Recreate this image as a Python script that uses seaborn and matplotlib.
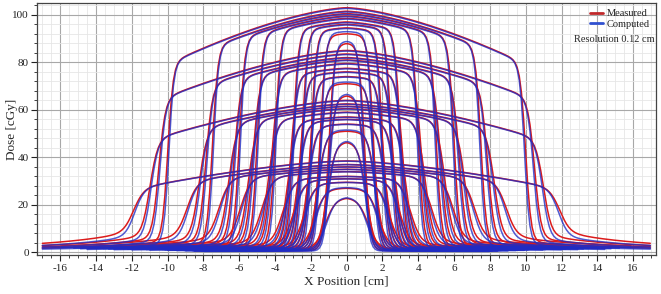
import numpy as np
import pandas as pd
import seaborn as sns
import matplotlib.pyplot as plt
from matplotlib.lines import Line2D
from matplotlib.ticker import MultipleLocator

# Field half-widths at the shallowest depth [cm]
half_widths = [1.0, 1.5, 2.0, 2.5, 3.0, 4.0, 5.0, 6.0, 7.5, 10.0]

# Central dose for each field, one list per depth [cGy]
peak_a = [88, 92, 94.5, 96, 97, 98.5, 99.5, 100.5, 101.5, 103]
peak_b = [66, 71, 74, 76, 77.5, 79.5, 81, 82, 83.5, 85]
peak_c = [46.5, 51, 54, 56, 57, 59, 60.5, 61.5, 62.5, 64]
peak_d = [23, 27, 29.5, 31, 32, 34, 35, 36, 37, 38.5]
peaks = [peak_a, peak_b, peak_c, peak_d]

# Per-depth beam properties
divergence = [1.0, 1.05, 1.10, 1.19]     # field edge scaling
penumbra = [0.15, 0.18, 0.22, 0.28]      # edge sharpness [cm]
cone = [0.0073, 0.0072, 0.0072, 0.0075]  # FFF fall-off across the field
tail_scale = [0.35, 0.45, 0.52, 0.60]    # out-of-field scatter
floor = [1.2, 1.4, 1.6, 1.8]             # far-out dose level

step = 0.12  # resolution [cm]


def profile(x, d0, w, s, k, t, f):
    ax_ = np.abs(x)
    shape = 1 - k * ax_ ** 1.5
    inside = 1 / (1 + np.exp((ax_ - w) / s))
    outside = (t * w) * np.exp(-np.clip(ax_ - w, 0, None) / 4.0) * (1 - inside)
    return d0 * shape * inside + outside + f * (1 - inside) * (1 - np.exp(-w / 2))


rows = []
cid = 0
for di, plist in enumerate(peaks):
    for hw, d0 in zip(half_widths, plist):
        w = hw * divergence[di]
        rng = min(17.0, w + 7.0)
        x = np.arange(-rng, rng + 1e-6, step)
        meas = profile(x, d0, w, penumbra[di], cone[di], tail_scale[di], floor[di])
        comp = profile(x, d0 * (1.01 if hw < 2 else 0.997), w - 0.06,
                       penumbra[di] * 0.92, cone[di], tail_scale[di] * 0.8,
                       floor[di] * 0.75)
        for kind, y in (('Measured', meas), ('Computed', comp)):
            rows.append(pd.DataFrame({'x': x, 'dose': y, 'type': kind,
                                      'curve': f'{kind}{cid}'}))
        cid += 1
df = pd.concat(rows, ignore_index=True)

sns.set_style('white')
plt.rcParams['font.family'] = ['Liberation Serif', 'DejaVu Serif']
plt.rcParams['axes.unicode_minus'] = False

fig = plt.figure(figsize=(6.61, 2.94), dpi=100)
ax = fig.add_axes([0.056, 0.132, 0.937, 0.858])

red = '#dc1c1c'
blue = '#1f2cc4'
sns.lineplot(data=df[df['type'] == 'Measured'], x='x', y='dose', units='curve',
             estimator=None, color=red, lw=1.1, ax=ax, legend=False)
sns.lineplot(data=df[df['type'] == 'Computed'], x='x', y='dose', units='curve',
             estimator=None, color=blue, lw=1.1, alpha=0.78, ax=ax, legend=False)

ax.set_xlim(-17.3, 17.3)
ax.set_ylim(-1.2, 105)
ax.xaxis.set_major_locator(MultipleLocator(2))
ax.xaxis.set_minor_locator(MultipleLocator(0.5))
ax.yaxis.set_major_locator(MultipleLocator(20))
ax.yaxis.set_minor_locator(MultipleLocator(4))
ax.grid(which='major', color='#a8a8a8', lw=0.8)
ax.grid(which='minor', color='#e6e6e6', lw=0.6)
ax.set_axisbelow(True)
ax.tick_params(which='major', direction='out', length=4, width=0.8,
               labelsize=8, pad=2, bottom=True, left=True, colors='#222222')
ax.tick_params(which='minor', direction='out', length=2, width=0.6,
               bottom=True, left=True, colors='#222222')
for sp in ax.spines.values():
    sp.set_color('#444444')
    sp.set_linewidth(0.9)

ax.set_xlabel('X Position [cm]', fontsize=9.5, labelpad=2)
ax.set_ylabel('Dose [cGy]', fontsize=9.5)
ax.yaxis.set_label_coords(-0.030, 0.5)

handles = [Line2D([], [], color='#c0282a', lw=2),
           Line2D([], [], color='#3050d0', lw=2)]
leg = ax.legend(handles, ['Measured', 'Computed'], loc='upper right',
                frameon=False, fontsize=7.5, handlelength=1.2,
                handletextpad=0.4, borderaxespad=0.2, labelspacing=0.1)
ax.text(0.997, 0.855, 'Resolution 0.12 cm', transform=ax.transAxes,
        ha='right', va='center', fontsize=7.5)

fig.savefig('out.png', dpi=100)
